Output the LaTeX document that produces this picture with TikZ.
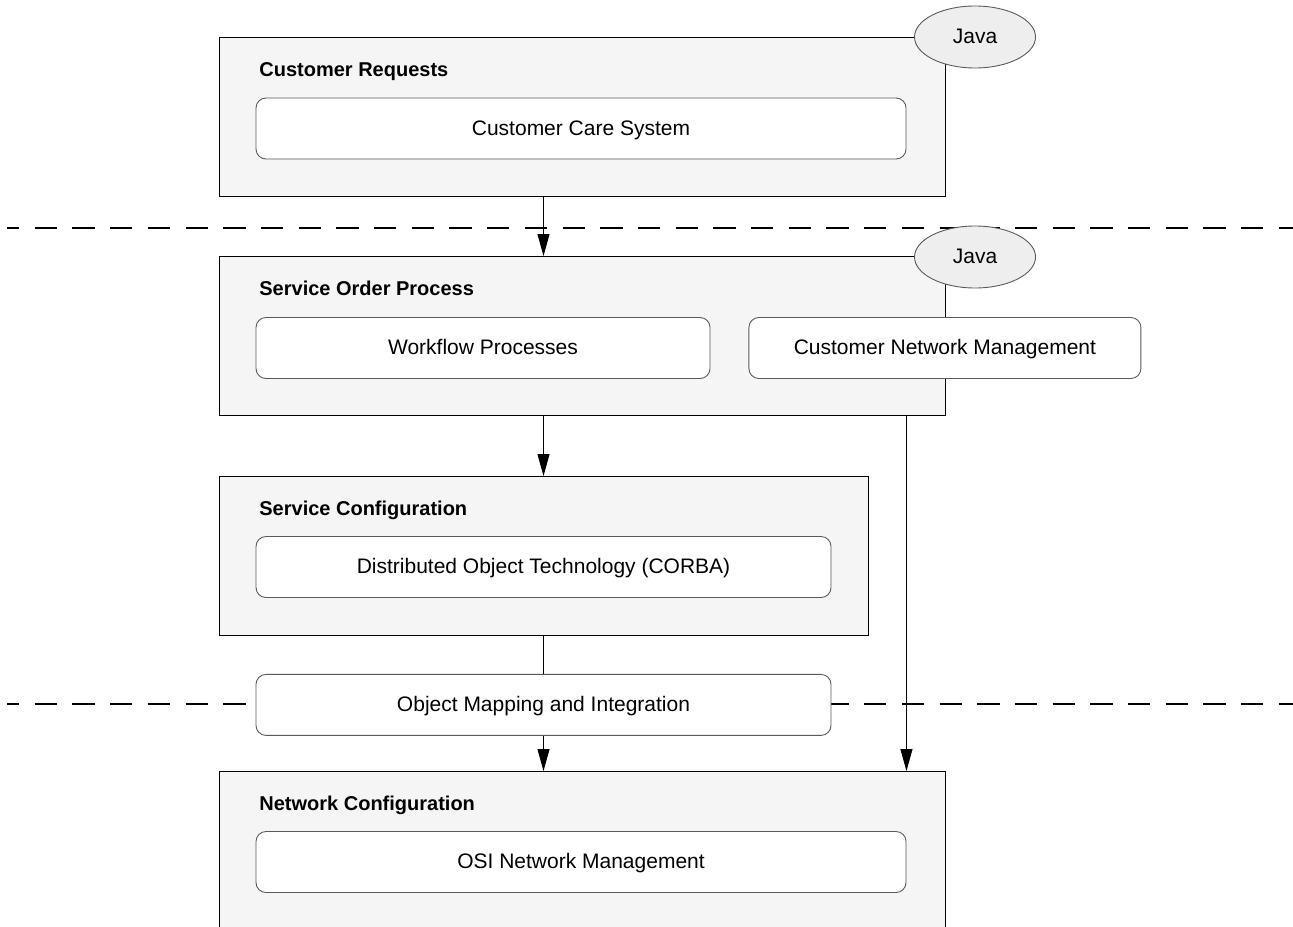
\documentclass[tikz,border=0pt]{standalone}
\usepackage{fontspec}
\setmainfont{Liberation Sans}
\usetikzlibrary{arrows.meta,positioning,shapes.geometric}
\definecolor{layergray}{HTML}{F5F5F5}
\definecolor{tagfill}{HTML}{EEEEEE}
\definecolor{edgegray}{HTML}{5A5A5A}
\tikzset{
  layer/.style={draw=black, fill=layergray, line width=0.6pt, anchor=north west, minimum height=79.5pt, inner sep=0pt},
  part/.style={draw=edgegray, fill=white, rounded corners=5pt, line width=0.45pt, minimum height=30.5pt, inner sep=0pt, text height=0.7em, text depth=0.04em},
  tag/.style={ellipse, draw=edgegray, fill=tagfill, line width=0.45pt, minimum width=60.5pt, minimum height=31pt, inner sep=0pt, text height=0.7em, text depth=0.04em},
  title/.style={font=\bfseries, anchor=base west, inner sep=0pt},
  arrow/.style={-{Triangle[length=11pt,width=6pt]}, line width=0.5pt},
  link/.style={line width=0.5pt},
  divider/.style={line width=1pt, dash pattern=on 11.15pt off 7.7pt, dash phase=5.15pt}
}

\begin{document}
\begin{tikzpicture}[x=0.5pt, y=-0.5pt, font=\fontsize{10.5}{12.6}\selectfont]
  \clip (0,0) rectangle (1293,926);

  % domain borders
  \draw[divider] (7.3,228) -- (1293,228);
  \draw[divider] (7.3,703.5) -- (1293,703.5);

  % layers
  \node[layer, minimum width=363pt] (custreq) at (219,37) {};
  \node[layer, minimum width=363pt] (svcorder) at (219,256) {};
  \node[layer, minimum width=324.5pt] (svccfg) at (219,476) {};
  \node[layer, minimum width=363pt] (netcfg) at (219,771) {};

  \node[title] (custreqT) at (259,76) {Customer Requests};
  \node[title] (svcorderT) at (259,295) {Service Order Process};
  \node[title] (svccfgT) at (259,515) {Service Configuration};
  \node[title] (netcfgT) at (259,810) {Network Configuration};

  % parts
  \node[part, minimum width=325pt] (ccs) at (581,128.5) {Customer Care System};
  \node[part, minimum width=227pt] (wfp) at (483,348) {Workflow Processes};
  \node[part, minimum width=196pt, right=19pt of wfp] (cnm) {Customer Network Management};
  \node[part, minimum width=287.5pt] (dot) at (543.5,567) {Distributed Object Technology (CORBA)};
  \node[part, minimum width=287.5pt, below=38pt of dot] (omi) {Object Mapping and Integration};
  \node[part, minimum width=325pt] (osi) at (581,862) {OSI Network Management};

  % platform tags
  \node[tag] (java1) at (975,37) {Java};
  \node[tag] (java2) at (975,257) {Java};

  % flow
  \draw[arrow] (custreq.south -| omi) -- (svcorder.north -| omi);
  \draw[arrow] (svcorder.south -| omi) -- (svccfg.north -| omi);
  \draw[link] (svccfg.south -| omi) -- (omi.north);
  \draw[arrow] (omi.south) -- (netcfg.north -| omi);
  \draw[arrow] (svcorder.south -| osi.east) -- (netcfg.north -| osi.east);
\end{tikzpicture}
\end{document}
